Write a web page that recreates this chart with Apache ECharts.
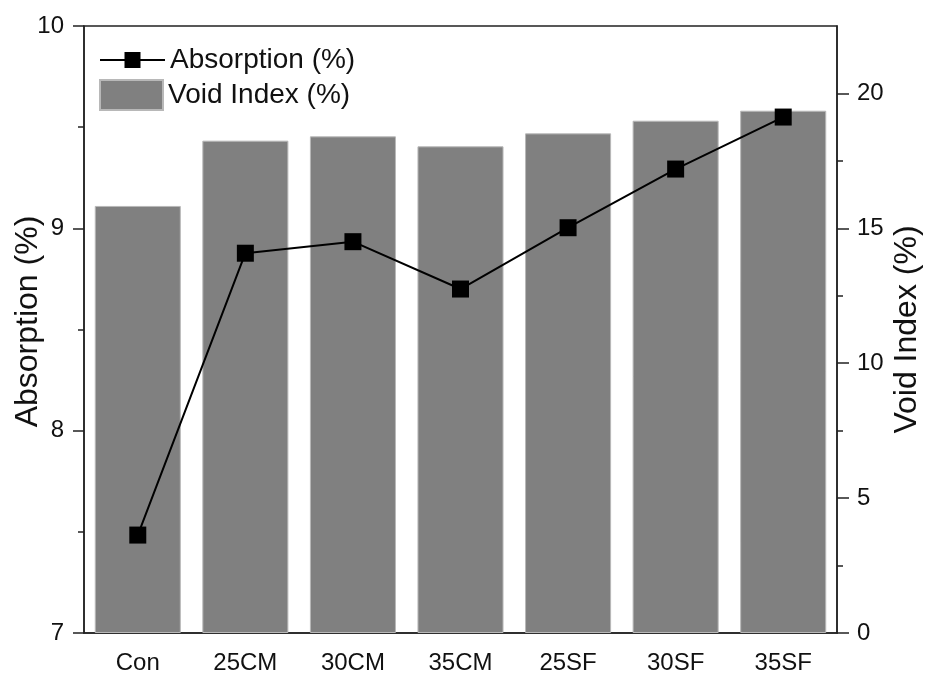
<!DOCTYPE html>
<html>
<head>
<meta charset="utf-8">
<script src="https://cdn.jsdelivr.net/npm/echarts@6/dist/echarts.min.js"></script>
<style>
  html, body { margin: 0; padding: 0; background: #fff; }
  #chart { width: 925px; height: 675px; }
</style>
</head>
<body>
<div id="chart"></div>
<script>
// Mix designations along the x axis
const categories = ['Con', '25CM', '30CM', '35CM', '25SF', '30SF', '35SF'];
// Water absorption (%), left axis
const absorption = [7.484, 8.877, 8.934, 8.700, 9.003, 9.293, 9.550];
// Void index (%), right axis
const voidIndex = [15.83, 18.25, 18.41, 18.04, 18.52, 18.99, 19.36];
// Right-axis tick positions (labelled majors and unlabelled minors)
const voidMajorTicks = [0, 5, 10, 15, 20];
const voidMinorTicks = [2.5, 7.5, 12.5, 17.5];

const FONT = '"Liberation Sans", Arial, sans-serif';
const INK = '#222';
const TXT = '#111';

const chart = echarts.init(document.getElementById('chart'), null, { renderer: 'canvas' });

const lineStyle = { color: INK, width: 1.5 };

chart.setOption({
  animation: false,
  backgroundColor: '#fff',
  grid: {
    left: 84, right: 88, top: 26, bottom: 42,
    outerBoundsMode: 'none',
    show: true, borderColor: INK, borderWidth: 1.5
  },
  legend: [
    {
      left: 99, top: 46, padding: 0, itemWidth: 65, itemHeight: 20, itemGap: 0,
      textStyle: { fontFamily: FONT, fontSize: 28, color: TXT },
      data: ['Absorption (%)']
    },
    {
      left: 99, top: 79, padding: 0, itemWidth: 63, itemHeight: 30, itemGap: 0,
      textStyle: { fontFamily: FONT, fontSize: 28, color: TXT },
      data: [{ name: 'Void Index (%)', icon: 'rect' }]
    }
  ],
  xAxis: {
    type: 'category',
    data: categories,
    axisLine: { lineStyle },
    axisTick: { alignWithLabel: true, length: 8, lineStyle },
    axisLabel: { fontFamily: FONT, fontSize: 24, color: TXT, margin: 18 }
  },
  yAxis: [
    {
      type: 'value', min: 7, max: 10, interval: 1,
      name: 'Absorption (%)', nameLocation: 'middle', nameGap: 40, nameMoveOverlap: false,
      nameTextStyle: { fontFamily: FONT, fontSize: 32, color: TXT, padding: [0, 0, 0, 16] },
      axisLine: { show: true, lineStyle },
      axisTick: { show: true, length: 11, lineStyle },
      minorTick: { show: true, splitNumber: 2, length: 6, lineStyle },
      axisLabel: { fontFamily: FONT, fontSize: 24, color: TXT, margin: 20 },
      splitLine: { show: false }
    },
    {
      type: 'value', min: 0, max: 22.5, position: 'right',
      name: 'Void Index (%)', nameLocation: 'middle', nameGap: 54, nameMoveOverlap: false,
      nameTextStyle: { fontFamily: FONT, fontSize: 32, color: TXT },
      axisLine: { show: true, lineStyle },
      axisTick: { show: true, length: 12, customValues: voidMajorTicks, lineStyle },
      axisLabel: { fontFamily: FONT, fontSize: 24, color: TXT, margin: 20, customValues: voidMajorTicks },
      splitLine: { show: false }
    },
    {
      // unlabelled half-step ticks on the right axis
      type: 'value', min: 0, max: 22.5, position: 'right',
      axisLine: { show: false },
      axisTick: { show: true, length: 6, customValues: voidMinorTicks, lineStyle },
      axisLabel: { show: false },
      splitLine: { show: false }
    }
  ],
  series: [
    {
      name: 'Void Index (%)', type: 'bar', yAxisIndex: 1,
      data: voidIndex, barCategoryGap: '20%',
      itemStyle: { color: '#808080', borderColor: '#b8b8b8', borderWidth: 1 },
      z: 1
    },
    {
      name: 'Absorption (%)', type: 'line', yAxisIndex: 0,
      data: absorption,
      symbol: 'rect', symbolSize: 17,
      lineStyle: { color: '#000', width: 2 },
      itemStyle: { color: '#000' },
      z: 3
    }
  ]
});
</script>
</body>
</html>
